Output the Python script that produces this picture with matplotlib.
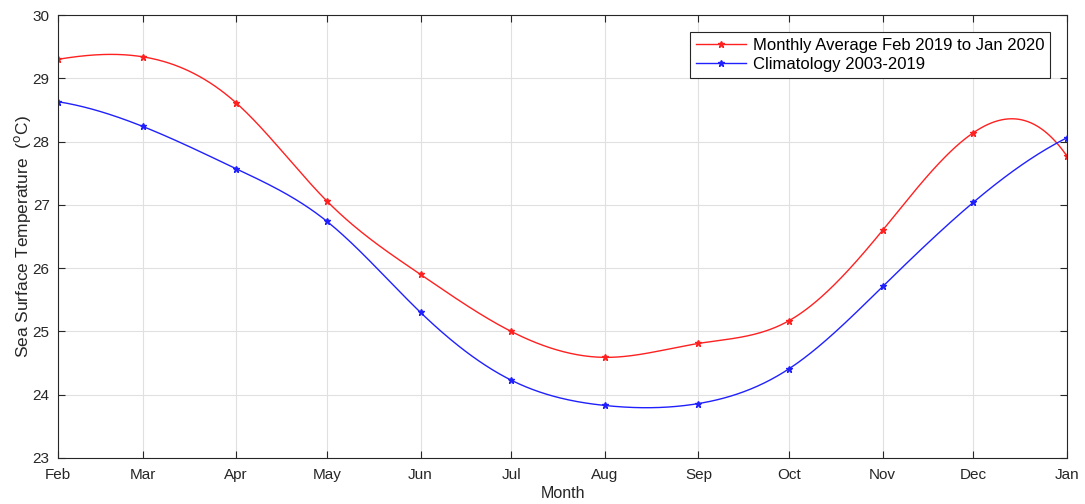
import numpy as np
import matplotlib
matplotlib.use("Agg")
import matplotlib.pyplot as plt
import datetime as dt
import matplotlib.dates as mdates

plt.rcParams['font.family'] = ['Liberation Sans', 'DejaVu Sans']

months = ['Feb', 'Mar', 'Apr', 'May', 'Jun', 'Jul', 'Aug', 'Sep', 'Oct', 'Nov', 'Dec', 'Jan']
dates = [dt.date(2019, m, 1) for m in range(2, 13)] + [dt.date(2020, 1, 1)]
monthly_2019 = [29.30, 29.34, 28.61, 27.06, 25.90, 25.00, 24.59, 24.81, 25.17, 26.60, 28.14, 27.77]
climatology = [28.63, 28.24, 27.57, 26.74, 25.30, 24.23, 23.83, 23.86, 24.41, 25.71, 27.04, 28.06]


def spline(x, y, xs):
    # cubic spline, not-a-knot ends (like matlab spline)
    x = np.asarray(x, float)
    y = np.asarray(y, float)
    n = len(x)
    h = np.diff(x)
    A = np.zeros((n, n))
    b = np.zeros(n)
    for i in range(1, n - 1):
        A[i, i - 1] = h[i - 1]
        A[i, i] = 2 * (h[i - 1] + h[i])
        A[i, i + 1] = h[i]
        b[i] = 6 * ((y[i + 1] - y[i]) / h[i] - (y[i] - y[i - 1]) / h[i - 1])
    A[0, 0] = h[1]
    A[0, 1] = -(h[0] + h[1])
    A[0, 2] = h[0]
    A[-1, -3] = h[-1]
    A[-1, -2] = -(h[-2] + h[-1])
    A[-1, -1] = h[-2]
    M = np.linalg.solve(A, b)
    out = np.zeros_like(xs, dtype=float)
    for k, xv in enumerate(xs):
        i = min(max(np.searchsorted(x, xv) - 1, 0), n - 2)
        t0 = x[i + 1] - xv
        t1 = xv - x[i]
        out[k] = (M[i] * t0 ** 3 + M[i + 1] * t1 ** 3) / (6 * h[i]) \
            + (y[i] / h[i] - M[i] * h[i] / 6) * t0 \
            + (y[i + 1] / h[i] - M[i + 1] * h[i] / 6) * t1
    return out


xnum = mdates.date2num(dates)
xs = np.linspace(xnum[0], xnum[-1], 600)

fig = plt.figure(figsize=(10.85, 5.04), dpi=100)
ax = fig.add_axes([0.0535, 0.0913, 0.9299, 0.8789])

ax.plot(xs, spline(xnum, monthly_2019, xs), color='#ff2020', lw=1)
ax.plot(xs, spline(xnum, climatology, xs), color='#2020ff', lw=1)
ax.plot(xnum, monthly_2019, '*', color='#ff2020', ms=5)
ax.plot(xnum, climatology, '*', color='#2020ff', ms=5)
# legend proxies
ax.plot([], [], '-*', color='#ff2020', ms=5, lw=1, label='Monthly Average Feb 2019 to Jan 2020')
ax.plot([], [], '-*', color='#2020ff', ms=5, lw=1, label='Climatology 2003-2019')

ax.set_xlim(xnum[0], xnum[-1])
ax.set_ylim(23, 30)
ax.set_xticks(xnum)
ax.set_xticklabels(months)
ax.set_yticks(range(23, 31))
ax.grid(True, color='#e0e0e0', lw=0.8)
ax.tick_params(direction='in', top=True, right=True, labelsize=11, colors='#262626', length=5)
ax.tick_params(axis='x', pad=7)
ax.tick_params(axis='y', pad=6)
for s in ax.spines.values():
    s.set_color('#262626')
    s.set_linewidth(0.8)

ax.set_xlabel('Month', fontsize=11.5, color='#262626', labelpad=3)
ax.set_ylabel(r'Sea Surface Temperature  ($^{\rm o}$C)', fontsize=12.5, color='#262626', labelpad=0)

leg = ax.legend(loc='upper right', fontsize=12, fancybox=False, framealpha=1,
                edgecolor='#262626', borderaxespad=1.0, handlelength=3.0,
                handletextpad=0.4, borderpad=0.35, labelspacing=0.25)
leg.get_frame().set_linewidth(0.8)

fig.savefig('out.png', dpi=100)
